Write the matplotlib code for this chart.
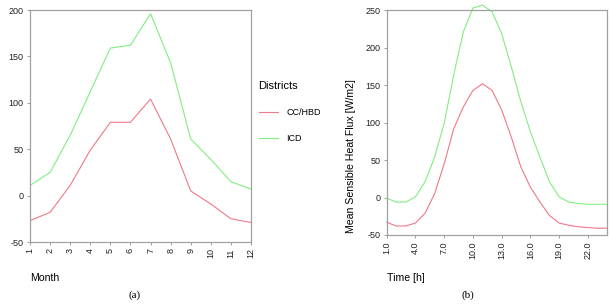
import numpy as np
import matplotlib.pyplot as plt

plt.rcParams['font.family'] = ['Liberation Sans', 'DejaVu Sans']
plt.rcParams['axes.unicode_minus'] = False

# (a) monthly mean sensible heat flux
months = [1, 2, 3, 4, 5, 6, 7, 8, 9, 10, 11, 12]
month_cc = [-27, -18, 11, 49, 79, 79, 104, 61, 5, -9, -25, -29]
month_icd = [11, 25, 65, 112, 159, 162, 196, 143, 61, 39, 15, 7]

# (b) diurnal course
hours = list(range(1, 25))
hour_cc = [-33, -38, -38, -34, -21, 5, 45, 92, 121, 143, 152, 143,
           117, 81, 41, 14, -6, -24, -34, -37, -39, -40, -41, -41]
hour_icd = [-1, -6, -6, 1, 21, 54, 99, 164, 221, 253, 257, 248,
            219, 175, 128, 88, 54, 21, 1, -6, -8, -9, -9, -9]

red = '#f07888'
green = '#80ee80'
spine_col = '#a0a0a0'

fig = plt.figure(figsize=(6.11, 3.05), dpi=100)
ax1 = fig.add_axes([30 / 611, 63 / 305, 221 / 611, 232 / 305])
ax2 = fig.add_axes([386.7 / 611, 70 / 305, 220.3 / 611, 224.7 / 305])

l1, = ax1.plot(months, month_cc, color=red, lw=0.8)
l2, = ax1.plot(months, month_icd, color=green, lw=0.8)
ax1.set_xlim(1, 12)
ax1.set_ylim(-50, 200)
ax1.set_xticks(months)
ax1.set_xticklabels([str(m) for m in months], rotation=90)
ax1.set_yticks([-50, 0, 50, 100, 150, 200])
ax1.set_xlabel('Month', fontsize=7.6, loc='left')
ax1.xaxis.set_label_coords(0, -0.155)
ax1.xaxis.label.set_va('center')

ax2.plot(hours, hour_cc, color=red, lw=0.8, clip_on=False)
ax2.plot(hours, hour_icd, color=green, lw=0.8, clip_on=False)
ax2.set_xlim(1, 24)
ax2.set_ylim(-50, 250)
xt = [1, 4, 7, 10, 13, 16, 19, 22]
ax2.set_xticks(xt)
ax2.set_xticklabels(['{:.1f}'.format(t) for t in xt], rotation=90)
ax2.set_yticks([-50, 0, 50, 100, 150, 200, 250])
ax2.set_xlabel('Time [h]', fontsize=7.6, loc='left')
ax2.xaxis.set_label_coords(0, -0.191)
ax2.xaxis.label.set_va('center')
ax2.set_ylabel('Mean Sensible Heat Flux [W/m2]', fontsize=7.6, loc='bottom')
ax2.yaxis.set_label_coords(-0.139, 0.01)

for ax in (ax1, ax2):
    for s in ax.spines.values():
        s.set_color(spine_col)
        s.set_linewidth(0.9)
    ax.tick_params(labelsize=6.5, length=2.5, width=0.7, color=spine_col,
                   labelcolor='#222222', pad=2)

leg = fig.legend([l1, l2], ['CC/HBD', 'ICD'], title='Districts',
                 loc='upper left', bbox_to_anchor=(255 / 611, 1 - 77 / 305),
                 frameon=False, fontsize=6.5, title_fontsize=8,
                 handlelength=2.2, handletextpad=0.9, labelspacing=1.9,
                 alignment='left', borderaxespad=0)

fig.text(135 / 611, 1 - 295 / 305, '(a)', family='Liberation Serif',
         fontsize=8, ha='center', va='center')
fig.text(468 / 611, 1 - 295 / 305, '(b)', family='Liberation Serif',
         fontsize=8, ha='center', va='center')

fig.savefig('out.png', dpi=100)
